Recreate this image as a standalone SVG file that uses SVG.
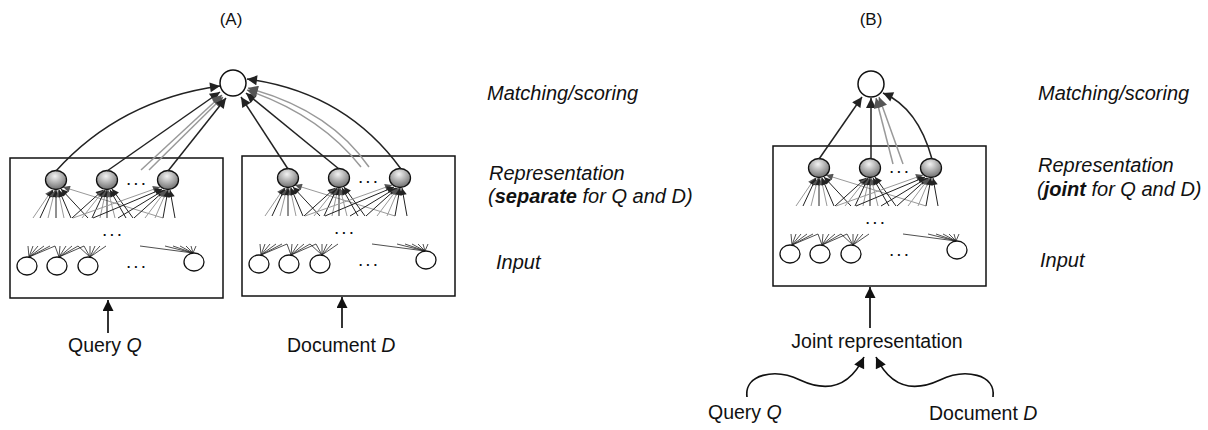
<svg xmlns="http://www.w3.org/2000/svg" xmlns:xlink="http://www.w3.org/1999/xlink" width="1208" height="430" viewBox="0 0 1208 430">
<style>
  text { font-family: "Liberation Sans", Arial, sans-serif; fill: #111; }
  .lbl { font-size: 19.5px; }
  .it { font-style: italic; font-size: 20px; }
  .hdr { font-size: 17px; }
  .dots { font-size: 19px; letter-spacing: 2px; }
  .box { fill: #fff; stroke: #111; stroke-width: 1.5; }
  .top { fill: #fff; stroke: #111; stroke-width: 1.5; }
  .inp { fill: #fff; stroke: #111; stroke-width: 1.3; }
  .hid { fill: url(#gg); stroke: #111; stroke-width: 1.3; }
  .k { stroke: #222; stroke-width: 1.5; fill: none; }
  .g { stroke: #999; stroke-width: 1.5; fill: none; }
  .fk { stroke: #222; stroke-width: 1; fill: none; marker-end: url(#sa); }
  .fg { stroke: #999; stroke-width: 1; fill: none; marker-end: url(#sag); }
  .in { stroke: #222; stroke-width: 0.8; fill: none; }
  .ar { stroke: #111; stroke-width: 1.7; fill: none; marker-end: url(#ba2); }
</style>
<defs>
  <radialGradient id="gg" cx="45%" cy="30%" r="70%">
    <stop offset="0" stop-color="#f2f2f2"/>
    <stop offset="1" stop-color="#6e6e6e"/>
  </radialGradient>
  <marker id="ba" viewBox="0 0 10 10" refX="10" refY="5" markerWidth="13" markerHeight="10" markerUnits="userSpaceOnUse" orient="auto">
    <path d="M0,0 L10,5 L0,10 z" fill="#222"/>
  </marker>
  <marker id="ba2" viewBox="0 0 10 10" refX="10" refY="5" markerWidth="14" markerHeight="11" markerUnits="userSpaceOnUse" orient="auto">
    <path d="M0,0 L10,5 L0,10 z" fill="#111"/>
  </marker>
  <marker id="bg" viewBox="0 0 10 10" refX="10" refY="5" markerWidth="13" markerHeight="10" markerUnits="userSpaceOnUse" orient="auto">
    <path d="M0,0 L10,5 L0,10 z" fill="#555"/>
  </marker>
  <marker id="sa" viewBox="0 0 10 10" refX="10" refY="5" markerWidth="8" markerHeight="7" markerUnits="userSpaceOnUse" orient="auto">
    <path d="M0,0 L10,5 L0,10 z" fill="#222"/>
  </marker>
  <marker id="sag" viewBox="0 0 10 10" refX="10" refY="5" markerWidth="8" markerHeight="7" markerUnits="userSpaceOnUse" orient="auto">
    <path d="M0,0 L10,5 L0,10 z" fill="#555"/>
  </marker>
  <g id="net">
    <rect class="box" x="10" y="158" width="213" height="140"/>
    <path class="fg" d="M33,218 L52,190"/>
    <path class="fk" d="M40,218 L53,190"/>
    <path class="fg" d="M48,218 L55,190"/>
    <path class="fk" d="M56,218 L56,190"/>
    <path class="fg" d="M64,218 L58,190"/>
    <path class="fk" d="M71,218 L59,190"/>
    <path class="fk" d="M88,218 L61,189"/>
    <path class="fg" d="M163,218 L63,187"/>
    <path class="fk" d="M72,218 L103,190"/>
    <path class="fg" d="M82,218 L104,190"/>
    <path class="fk" d="M92,218 L105,190"/>
    <path class="fg" d="M100,218 L106,190"/>
    <path class="fk" d="M107,218 L107,190"/>
    <path class="fg" d="M115,218 L108,190"/>
    <path class="fk" d="M126,218 L110,190"/>
    <path class="fk" d="M133,218 L112,189"/>
    <path class="fg" d="M73,218 L160,187"/>
    <path class="fk" d="M93,218 L162,189"/>
    <path class="fk" d="M118,218 L164,190"/>
    <path class="fk" d="M134,218 L165,190"/>
    <path class="fg" d="M145,218 L166,190"/>
    <path class="fg" d="M155,218 L167,190"/>
    <path class="fk" d="M163,218 L168,190"/>
    <path class="fk" d="M175,218 L170,190"/>
    <ellipse class="hid" cx="56" cy="180" rx="10.5" ry="9.5"/>
    <ellipse class="hid" cx="107" cy="180" rx="10.5" ry="9.5"/>
    <ellipse class="hid" cx="168" cy="180" rx="10.5" ry="9.5"/>
    <text class="dots" x="137" y="185" text-anchor="middle">...</text>
    <text class="dots" x="113" y="236" text-anchor="middle">...</text>
    <path class="in" d="M29,257 L28,246 M29,257 L33,246 M29,257 L38,246 M29,257 L44,246 M29,257 L50,246 M29,257 L55,246"/>
    <path class="in" d="M59,257 L55,246 M59,257 L60,246 M59,257 L66,246 M59,257 L72,246 M59,257 L78,246 M59,257 L84,246"/>
    <path class="in" d="M90,257 L78,246 M90,257 L84,246 M90,257 L90,246 M90,257 L95,246 M90,257 L100,246 M90,257 L106,246"/>
    <path class="in" d="M193,253 L140,246 M193,253 L165,246 M193,253 L173,246 M193,253 L180,246 M193,253 L186,246 M193,253 L191,246 M193,253 L196,246"/>
    <ellipse class="inp" cx="27" cy="266" rx="10" ry="9"/>
    <ellipse class="inp" cx="57" cy="266" rx="10" ry="9"/>
    <ellipse class="inp" cx="88" cy="266" rx="10" ry="9"/>
    <ellipse class="inp" cx="194" cy="262" rx="10" ry="9"/>
    <text class="dots" x="137" y="268" text-anchor="middle">...</text>
  </g>
</defs>

<text id="hdrA" class="hdr" x="231" y="25" text-anchor="middle">(A)</text>
<text id="hdrB" class="hdr" x="871" y="25" text-anchor="middle">(B)</text>

<g id="boxQ"><use xlink:href="#net"/></g>
<g id="boxD"><use xlink:href="#net" transform="translate(232,-2)"/></g>
<g id="boxJ"><use xlink:href="#net" transform="translate(763,-12)"/></g>

<g id="connectors">
  <path class="k" marker-end="url(#ba)" d="M56,171 Q120,100 220,86"/>
  <path class="k" marker-end="url(#ba)" d="M107,171 L220,92"/>
  <path class="g" marker-end="url(#bg)" d="M141,170 L222,95"/>
  <path class="g" marker-end="url(#bg)" d="M149,170 L223,97"/>
  <path class="k" marker-end="url(#ba)" d="M168,171 L226,98"/>
  <path class="k" marker-end="url(#ba)" d="M288,169 L241,97"/>
  <path class="k" marker-end="url(#ba)" d="M339,169 L246,93"/>
  <path class="g" marker-end="url(#bg)" d="M361,167 Q320,115 247,90"/>
  <path class="g" marker-end="url(#bg)" d="M369,167 Q330,110 248,88"/>
  <path class="k" marker-end="url(#ba)" d="M401,169 Q345,92 247,79"/>
  <path class="k" marker-end="url(#ba)" d="M819,159 L862,97"/>
  <path class="k" marker-end="url(#ba)" d="M871,159 L871,98"/>
  <path class="g" marker-end="url(#bg)" d="M893,164 L876,98"/>
  <path class="g" marker-end="url(#bg)" d="M903,164 L879,97"/>
  <path class="k" marker-end="url(#ba)" d="M932,159 Q918,108 883,93"/>
  <path class="ar" d="M108,333 L108,300"/>
  <path class="ar" d="M342,328 L342,297"/>
  <path class="ar" d="M870,328 L870,287"/>
  <path class="ar" d="M747,397 C744,374 775,368 800,380 C828,393 850,386 864,357"/>
  <path class="ar" d="M993,397 C996,374 965,368 940,380 C912,393 890,386 876,357"/>
</g>

<g id="topA"><circle class="top" cx="233" cy="83" r="13"/></g>
<g id="topB"><circle class="top" cx="871" cy="84" r="13"/></g>

<g id="labelsA">
  <text class="it" x="487" y="100">Matching/scoring</text>
  <text class="it" x="489" y="180">Representation</text>
  <text class="it" x="488" y="203">(<tspan font-weight="bold">separate</tspan> for Q and D)</text>
  <text class="it" x="496" y="269">Input</text>
</g>
<g id="labelsB">
  <text class="it" x="1038" y="100">Matching/scoring</text>
  <text class="it" x="1038" y="172">Representation</text>
  <text class="it" x="1037" y="196">(<tspan font-weight="bold">joint</tspan> for Q and D)</text>
  <text class="it" x="1040" y="267">Input</text>
</g>

<g id="qA"><text class="lbl" x="68" y="352">Query <tspan font-style="italic">Q</tspan></text></g>
<g id="dA"><text class="lbl" x="287" y="352">Document <tspan font-style="italic">D</tspan></text></g>
<g id="jr"><text class="lbl" x="877" y="348" text-anchor="middle">Joint representation</text></g>
<g id="qB"><text class="lbl" x="708" y="419">Query <tspan font-style="italic">Q</tspan></text></g>
<g id="dB"><text class="lbl" x="929" y="420">Document <tspan font-style="italic">D</tspan></text></g>
</svg>
